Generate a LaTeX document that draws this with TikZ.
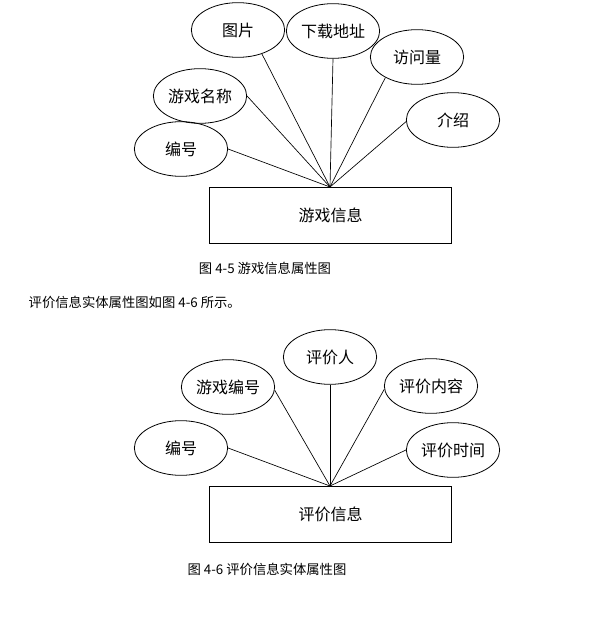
\documentclass[tikz,border=0pt]{standalone}
\usepackage{fontspec}
\setmainfont{Liberation Serif}
\newfontfamily\cjk{Noto Sans CJK SC}
\usetikzlibrary{shapes.geometric}

\begin{document}
\begin{tikzpicture}[x=0.75pt,y=-0.75pt, every node/.style={font=\cjk\fontsize{12}{14}\selectfont},
  attr/.style={ellipse, draw, line width=0.6pt, minimum width=70pt, minimum height=41pt, inner sep=0pt},
  entity/.style={rectangle, draw, line width=0.6pt, minimum width=182pt, minimum height=42pt},
  caption/.style={font=\cjk\fontsize{10}{12}\selectfont},
  link/.style={line width=0.5pt}]
  \useasboundingbox (0,0) rectangle (595,620);
  % 游戏信息属性图
  \node[entity] (game) at (330.5,215) {游戏信息};
  \coordinate (gameTop) at (330,187);
  \foreach \n/\x/\y/\lab/\a in {gPic/238/30/图片/-45, gUrl/333/31/下载地址/south, gVisit/417/57/访问量/213,
      gName/200/96/游戏名称/east, gIntro/453/120/介绍/182, gId/181/149/编号/east} {
    \node[attr] (\n) at (\x,\y) {\lab};
    \draw[link] (\n.\a) -- (gameTop);
  }
  \node[caption] (capA) at (265,268) {图 4-5 游戏信息属性图};
  \node[caption, anchor=west] (para) at (24,302) {评价信息实体属性图如图 4-6 所示。};
  % 评价信息实体属性图
  \node[entity] (review) at (330.5,514) {评价信息};
  \coordinate (reviewTop) at (330,486);
  \foreach \n/\x/\y/\lab/\a in {rUser/330/357/评价人/south, rGame/228/387/游戏编号/-4, rText/431/386/评价内容/184,
      rId/181/448/编号/east, rTime/453/450/评价时间/west} {
    \node[attr] (\n) at (\x,\y) {\lab};
    \draw[link] (\n.\a) -- (reviewTop);
  }
  \node[caption] (capB) at (267,569) {图 4-6 评价信息实体属性图};
\end{tikzpicture}
\end{document}
